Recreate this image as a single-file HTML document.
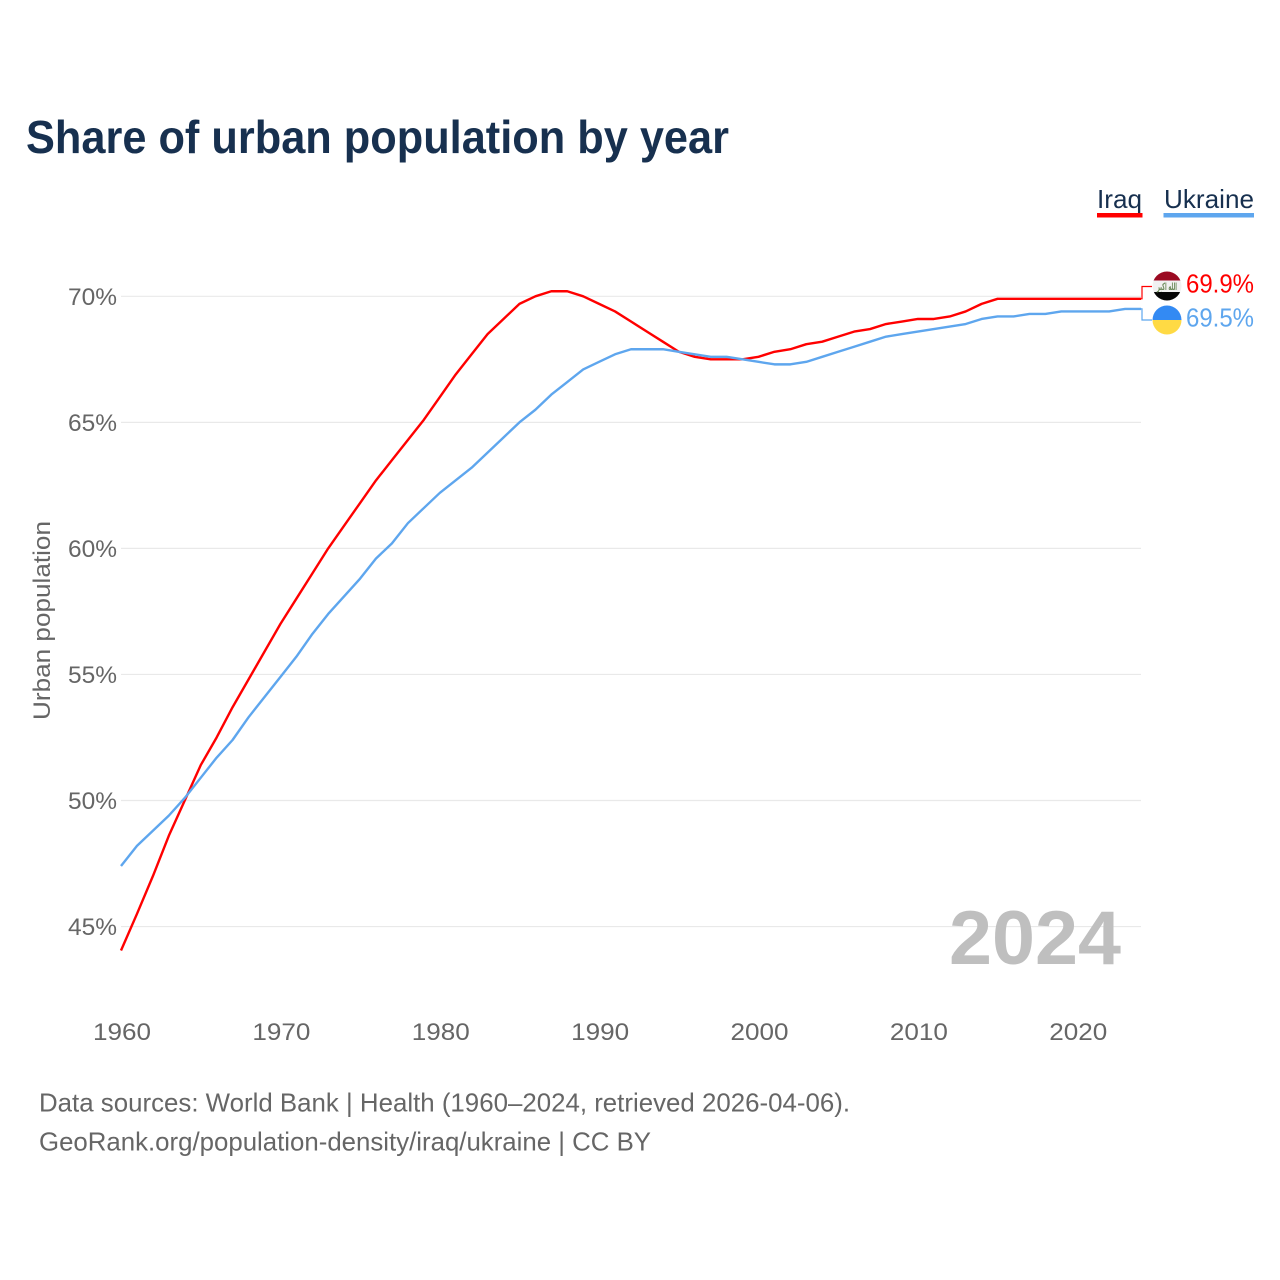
<!DOCTYPE html>
<html lang="en">
<head>
<meta charset="utf-8">
<title>Share of urban population by year</title>
<style>
html,body{margin:0;padding:0;background:#fff;}
svg{display:block;font-family:"Liberation Sans",sans-serif;}
</style>
</head>
<body>
<svg id="chart" xmlns="http://www.w3.org/2000/svg" width="1280" height="1280" viewBox="0 0 1280 1280">
  <defs>
    <clipPath id="clip-iraq"><circle cx="1167" cy="286" r="14.5"/></clipPath>
    <clipPath id="clip-ukraine"><circle cx="1167" cy="320" r="14.5"/></clipPath>
  </defs>
  <rect x="0" y="0" width="1280" height="1280" fill="#ffffff"/>
  <text x="26" y="153" font-size="46" font-weight="700" fill="#17304f" textLength="703" lengthAdjust="spacingAndGlyphs">Share of urban population by year</text>

  <g>
    <g>
      <text x="1097" y="208" font-size="26" fill="#17304f" textLength="45" lengthAdjust="spacingAndGlyphs">Iraq</text>
      <rect x="1097" y="213" width="45.5" height="4.5" fill="#ff0000"/>
    </g>
    <g>
      <text x="1164" y="208" font-size="26" fill="#17304f" textLength="90" lengthAdjust="spacingAndGlyphs">Ukraine</text>
      <rect x="1163.500" y="213" width="90.500" height="4.5" fill="#5ea6ee"/>
    </g>
  </g>

  <g id="grid"></g>
  <g id="y-ticks"></g>
  <g id="x-ticks"></g>
  <text transform="translate(50,620.500) rotate(-90)" text-anchor="middle" font-size="24" fill="#666666" textLength="199" lengthAdjust="spacingAndGlyphs">Urban population</text>

  <text x="949" y="964" font-size="76" font-weight="700" fill="#bfbfbf" textLength="172" lengthAdjust="spacingAndGlyphs">2024</text>

  <path id="line-iraq" fill="none" stroke="#ff0000" stroke-width="2.4" stroke-linejoin="round"/>
  <path id="line-ukraine" fill="none" stroke="#5ea6ee" stroke-width="2.4" stroke-linejoin="round"/>
  <path id="connector-iraq" fill="none" stroke="#ff0000" stroke-width="1.2"/>
  <path id="connector-ukraine" fill="none" stroke="#5ea6ee" stroke-width="1.2"/>

  <g clip-path="url(#clip-iraq)">
    <rect x="1152" y="271" width="30" height="9.500" fill="#9b0a22"/>
    <rect x="1152" y="280.500" width="30" height="11.500" fill="#f1f1f1"/>
    <rect x="1152" y="292" width="30" height="9" fill="#050505"/>
    <text x="1157" y="290" font-size="10" font-weight="700" fill="#6a8a58" textLength="20" lengthAdjust="spacingAndGlyphs" style="font-family:'DejaVu Sans',sans-serif">الله اكبر</text>
  </g>
  <g clip-path="url(#clip-ukraine)">
    <rect x="1152" y="305" width="30" height="15" fill="#338af3"/>
    <rect x="1152" y="320" width="30" height="15.500" fill="#ffda44"/>
  </g>
  <text id="label-iraq" x="1186" y="292.500" font-size="26" fill="#ff0000" textLength="68" lengthAdjust="spacingAndGlyphs"></text>
  <text id="label-ukraine" x="1186" y="326.500" font-size="26" fill="#5ea6ee" textLength="68" lengthAdjust="spacingAndGlyphs"></text>

  <g>
    <text x="39" y="1111.500" font-size="26" fill="#666666" textLength="811" lengthAdjust="spacingAndGlyphs">Data sources: World Bank | Health (1960–2024, retrieved 2026-04-06).</text>
    <text x="39" y="1150.500" font-size="26" fill="#666666" textLength="612" lengthAdjust="spacingAndGlyphs">GeoRank.org/population-density/iraq/ukraine | CC BY</text>
  </g>
</svg>
<script>
const years = [1960,1961,1962,1963,1964,1965,1966,1967,1968,1969,1970,1971,1972,1973,1974,1975,1976,1977,1978,1979,1980,1981,1982,1983,1984,1985,1986,1987,1988,1989,1990,1991,1992,1993,1994,1995,1996,1997,1998,1999,2000,2001,2002,2003,2004,2005,2006,2007,2008,2009,2010,2011,2012,2013,2014,2015,2016,2017,2018,2019,2020,2021,2022,2023,2024];
const iraqValues = [44.05,45.5,47.0,48.6,50.0,51.4,52.5,53.7,54.8,55.9,57.0,58.0,59.0,60.0,60.9,61.8,62.7,63.5,64.3,65.1,66.0,66.9,67.7,68.5,69.1,69.7,70.0,70.2,70.2,70.0,69.7,69.4,69.0,68.6,68.2,67.8,67.6,67.5,67.5,67.5,67.6,67.8,67.9,68.1,68.2,68.4,68.6,68.7,68.9,69.0,69.1,69.1,69.2,69.4,69.7,69.9,69.9,69.9,69.9,69.9,69.9,69.9,69.9,69.9,69.9];
const ukraineValues = [47.4,48.2,48.8,49.4,50.1,50.9,51.7,52.4,53.3,54.1,54.9,55.7,56.6,57.4,58.1,58.8,59.6,60.2,61.0,61.6,62.2,62.7,63.2,63.8,64.4,65.0,65.5,66.1,66.6,67.1,67.4,67.7,67.9,67.9,67.9,67.8,67.7,67.6,67.6,67.5,67.4,67.3,67.3,67.4,67.6,67.8,68.0,68.2,68.4,68.5,68.6,68.7,68.8,68.9,69.1,69.2,69.2,69.3,69.3,69.4,69.4,69.4,69.4,69.5,69.5];
const yTickValues = [45,50,55,60,65,70];
const xTickValues = [1960,1970,1980,1990,2000,2010,2020];

const SVG_NS = 'http://www.w3.org/2000/svg';
const xScale = function (year) { return 121 + (year - 1960) * (1141 - 121) / 64; };
const yScale = function (value) { return 296.3 + (70 - value) * 25.21; };

function linePath(values) {
  return values.map(function (v, i) {
    return (i === 0 ? 'M' : 'L') + xScale(years[i]).toFixed(2) + ' ' + yScale(v).toFixed(2);
  }).join(' ');
}

const gridGroup = document.getElementById('grid');
const yTickGroup = document.getElementById('y-ticks');
const xTickGroup = document.getElementById('x-ticks');

yTickValues.forEach(function (value) {
  const y = yScale(value);
  const gridLine = document.createElementNS(SVG_NS, 'line');
  
  
  gridLine.setAttribute('x1', 121);
  gridLine.setAttribute('x2', 1141);
  gridLine.setAttribute('y1', y);
  gridLine.setAttribute('y2', y);
  gridLine.setAttribute('stroke', '#e9e9e9');
  gridLine.setAttribute('stroke-width', '1.2');
  gridGroup.appendChild(gridLine);

  const label = document.createElementNS(SVG_NS, 'text');
  
  
  label.setAttribute('x', 68);
  label.setAttribute('y', y + 8.5);
  label.setAttribute('font-size', '24');
  label.setAttribute('fill', '#666666');
  label.setAttribute('textLength', '49');
  label.setAttribute('lengthAdjust', 'spacingAndGlyphs');
  label.textContent = value + '%';
  yTickGroup.appendChild(label);
});

xTickValues.forEach(function (year) {
  const label = document.createElementNS(SVG_NS, 'text');
  
  
  label.setAttribute('x', xScale(year) - 28);
  label.setAttribute('y', 1040);
  label.setAttribute('font-size', '24');
  label.setAttribute('fill', '#666666');
  label.setAttribute('textLength', '58');
  label.setAttribute('lengthAdjust', 'spacingAndGlyphs');
  label.textContent = String(year);
  xTickGroup.appendChild(label);
});

document.getElementById('line-iraq').setAttribute('d', linePath(iraqValues));
document.getElementById('line-ukraine').setAttribute('d', linePath(ukraineValues));

const iraqLast = iraqValues[iraqValues.length - 1];
const ukraineLast = ukraineValues[ukraineValues.length - 1];
document.getElementById('connector-iraq').setAttribute('d', 'M1141 ' + yScale(iraqLast).toFixed(2) + ' L1142 ' + yScale(iraqLast).toFixed(2) + ' L1142 286.5 L1152 286.5');
document.getElementById('connector-ukraine').setAttribute('d', 'M1141 ' + yScale(ukraineLast).toFixed(2) + ' L1142 ' + yScale(ukraineLast).toFixed(2) + ' L1142 320 L1152 320');
document.getElementById('label-iraq').textContent = iraqLast.toFixed(1) + '%';
document.getElementById('label-ukraine').textContent = ukraineLast.toFixed(1) + '%';
</script>
</body>
</html>
